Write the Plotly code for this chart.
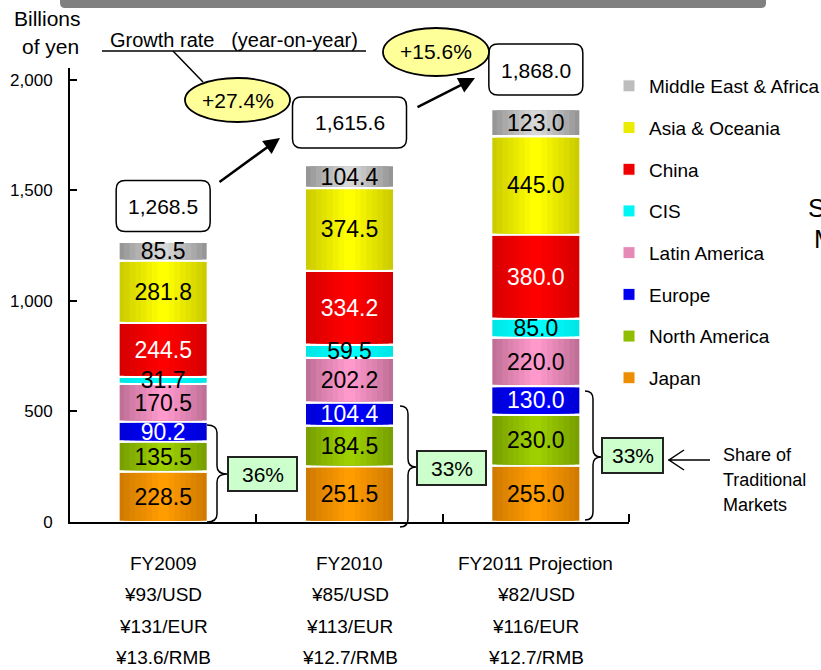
import plotly.graph_objects as go

# ---- data ----
years = ["FY2009", "FY2010", "FY2011 Projection"]
usd_rate = ["¥93/USD", "¥85/USD", "¥82/USD"]
eur_rate = ["¥131/EUR", "¥113/EUR", "¥116/EUR"]
rmb_rate = ["¥13.6/RMB", "¥12.7/RMB", "¥12.7/RMB"]

japan = [228.5, 251.5, 255.0]
north_america = [135.5, 184.5, 230.0]
europe = [90.2, 104.4, 130.0]
latin_america = [170.5, 202.2, 220.0]
cis = [31.7, 59.5, 85.0]
china = [244.5, 334.2, 380.0]
asia_oceania = [281.8, 374.5, 445.0]
middle_east_africa = [85.5, 104.4, 123.0]

totals = [1268.5, 1615.6, 1868.0]
growth = ["+27.4%", "+15.6%"]
traditional_share = ["36%", "33%", "33%"]

# name, values, edge colour, centre colour, label colour
series = [
    ("Japan", japan, (208, 122, 0), (255, 156, 0), "black"),
    ("North America", north_america, (120, 160, 0), (158, 208, 0), "black"),
    ("Europe", europe, (0, 0, 215), (0, 0, 255), "white"),
    ("Latin America", latin_america, (192, 112, 152), (255, 153, 204), "black"),
    ("CIS", cis, (0, 230, 230), (0, 255, 255), "black"),
    ("China", china, (215, 0, 0), (255, 0, 0), "white"),
    ("Asia & Oceania", asia_oceania, (204, 204, 0), (255, 255, 0), "black"),
    ("Middle East & Africa", middle_east_africa, (150, 150, 150), (215, 215, 215), "black"),
]

FONT = "Liberation Sans, Arial"
YMAX = 2054
BAR_W = 0.48
STEPS = 8

FIG_W, FIG_H = 821, 670
# plot area in pixels (for decorations)
L, T, W, H = 70, 68, 559, 454
PAD = 1.2 * YMAX / H  # keeps the white separators visible


def px(x):
    return (x - L) / W


def py(y):
    return (T + H - y) / H


def rgb(c):
    return "rgb(%d,%d,%d)" % c


def mix(a, b, t):
    return tuple(round(a[i] + (b[i] - a[i]) * t) for i in range(3))


def rounded_rect(x0, y0, x1, y1, r):
    p = [
        f"M{px(x0 + r)},{py(y0)}",
        f"L{px(x1 - r)},{py(y0)}",
        f"Q{px(x1)},{py(y0)} {px(x1)},{py(y0 + r)}",
        f"L{px(x1)},{py(y1 - r)}",
        f"Q{px(x1)},{py(y1)} {px(x1 - r)},{py(y1)}",
        f"L{px(x0 + r)},{py(y1)}",
        f"Q{px(x0)},{py(y1)} {px(x0)},{py(y1 - r)}",
        f"L{px(x0)},{py(y0 + r)}",
        f"Q{px(x0)},{py(y0)} {px(x0 + r)},{py(y0)}",
        "Z",
    ]
    return " ".join(p)


def brace(x0, ytop, ybot, ytip, w):
    xm = x0 + w * 0.5
    xt = x0 + w
    r = 8
    p = [
        f"M{px(x0)},{py(ytop)}",
        f"Q{px(xm)},{py(ytop)} {px(xm)},{py(ytop + r)}",
        f"L{px(xm)},{py(ytip - r)}",
        f"Q{px(xm)},{py(ytip)} {px(xt)},{py(ytip)}",
        f"Q{px(xm)},{py(ytip)} {px(xm)},{py(ytip + r)}",
        f"L{px(xm)},{py(ybot - r)}",
        f"Q{px(xm)},{py(ybot)} {px(x0)},{py(ybot)}",
    ]
    return " ".join(p)


def label(x, y, text, size, **kw):
    d = dict(x=px(x), y=py(y), xref="paper", yref="paper", text=text, showarrow=False,
             xanchor="center", yanchor="middle",
             font=dict(family=FONT, size=size, color="black"))
    d.update(kw)
    return d


fig = go.Figure()

# cumulative bases for the stack
bases = [[0.0] * 3]
for s in series[:-1]:
    bases.append([b + v for b, v in zip(bases[-1], s[1])])

# bar segments: nested bars getting narrower and lighter towards the centre
for (name, vals, edge, centre, tcolor), base in zip(series, bases):
    for k in range(STEPS):
        w = BAR_W * (1 - k / STEPS)
        col = rgb(mix(edge, centre, k / (STEPS - 1)))
        if k == 0:
            fig.add_trace(go.Bar(
                x=years, y=vals, base=base, width=w, legendgroup=name, showlegend=False,
                marker=dict(color=col, line=dict(color="white", width=2.4)),
                hoverinfo="skip"))
        else:
            fig.add_trace(go.Bar(
                x=years, y=[v - 2 * PAD for v in vals], base=[b + PAD for b in base],
                width=w, legendgroup=name, showlegend=False,
                marker=dict(color=col, line=dict(width=0)), hoverinfo="skip"))

# value labels on top of every segment
for (name, vals, edge, centre, tcolor), base in zip(series, bases):
    fig.add_trace(go.Bar(
        x=years, y=vals, base=base, width=BAR_W, legendgroup=name, showlegend=False,
        marker=dict(color="rgba(0,0,0,0)", line=dict(width=0)),
        text=[f"{v:.1f}" for v in vals],
        textposition="inside", insidetextanchor="middle",
        constraintext="none", textangle=0,
        textfont=dict(family=FONT, size=23, color=tcolor),
        hoverinfo="skip"))

# legend entries
for rank, (name, vals, edge, centre, tcolor) in enumerate(series):
    fig.add_trace(go.Bar(
        x=[years[0]], y=[None], name=name, legendgroup=name,
        legendrank=len(series) - rank,
        marker=dict(color=rgb(mix(edge, centre, 0.6)), line=dict(color="white", width=1)),
        hoverinfo="skip"))

shapes = []
annotations = []

# grey band at top
shapes.append(dict(type="path", xref="paper", yref="paper",
                   path=rounded_rect(60, -10, 766, 8, 5),
                   fillcolor="#808080", line=dict(width=0)))

# total boxes above each bar
box_w = [94, 114, 94]
box_shift = [10, 17, 14]
for i, tot in enumerate(totals):
    cx = L + W * (i + 0.5) / 3
    ybot = T + H - tot / YMAX * H - box_shift[i]
    shapes.append(dict(type="path", xref="paper", yref="paper",
                       path=rounded_rect(cx - box_w[i] / 2, ybot - 51, cx + box_w[i] / 2, ybot, 9),
                       fillcolor="white", line=dict(color="black", width=1.5)))
    annotations.append(label(cx, ybot - 25, f"{tot:,.1f}", 21))

# growth ellipses
ellipses = [(185, 78, 290, 122), (383, 28, 489, 76)]
for (x0, y0, x1, y1), g in zip(ellipses, growth):
    shapes.append(dict(type="circle", xref="paper", yref="paper",
                       x0=px(x0), x1=px(x1), y0=py(y1), y1=py(y0),
                       fillcolor="#FFFF99", line=dict(color="black", width=1.8)))
    annotations.append(label((x0 + x1) / 2, (y0 + y1) / 2, g, 21))

# growth rate title with underline and leader line
annotations.append(label(234, 40, "Growth rate&nbsp;&nbsp; (year-on-year)", 20))
shapes.append(dict(type="line", xref="paper", yref="paper",
                   x0=px(102), x1=px(366), y0=py(51), y1=py(51),
                   line=dict(color="black", width=1.5)))
shapes.append(dict(type="line", xref="paper", yref="paper",
                   x0=px(173), x1=px(203), y0=py(51), y1=py(82),
                   line=dict(color="black", width=1.5)))

# arrows between totals
for (xs, ys, xe, ye) in [(218, 183, 280, 138), (416, 108, 475, 78)]:
    annotations.append(dict(x=px(xe), y=py(ye), xref="paper", yref="paper",
                            ax=xs - xe, ay=ys - ye, text="", showarrow=True,
                            arrowhead=2, arrowsize=1.3, arrowwidth=2.5, arrowcolor="black"))

# braces + traditional-market share boxes
braces = [(207, 425, 522, 474, 20), (400, 406, 527, 467, 16), (585, 391, 520, 457, 16)]
share_boxes = [(228, 457, 297, 491), (417, 451, 486, 485), (602, 438, 663, 473)]
for b, (x0, y0, x1, y1), s in zip(braces, share_boxes, traditional_share):
    shapes.append(dict(type="path", xref="paper", yref="paper", path=brace(*b),
                       line=dict(color="black", width=1.5)))
    shapes.append(dict(type="rect", xref="paper", yref="paper",
                       x0=px(x0), x1=px(x1), y0=py(y1), y1=py(y0),
                       fillcolor="#CCFFCC", line=dict(color="#222222", width=2)))
    annotations.append(label((x0 + x1) / 2, (y0 + y1) / 2, s, 21))

# open arrow pointing at last share box
shapes.append(dict(type="path", xref="paper", yref="paper",
                   path=f"M{px(668)},{py(460)} L{px(710)},{py(460)} "
                        f"M{px(684)},{py(450)} L{px(669)},{py(460)} L{px(684)},{py(470)}",
                   line=dict(color="black", width=1.5)))
for k, line in enumerate(["Share of", "Traditional", "Markets"]):
    annotations.append(label(721, 455 + 25 * k, line, 18, xanchor="left"))

# clipped text at right edge
annotations.append(label(806, 208, "S", 26, xanchor="left"))
annotations.append(label(812, 239, "M", 26, xanchor="left"))

# y-axis unit label
annotations.append(label(47, 19, "Billions", 21))
annotations.append(label(50, 47, "of yen", 21))

# category labels (multi-line, wide spacing)
for i in range(3):
    lines = [years[i], usd_rate[i], eur_rate[i], rmb_rate[i]]
    for k, txt in enumerate(lines):
        annotations.append(dict(x=years[i], y=py(563 + 31.5 * k), xref="x", yref="paper",
                                text=txt, showarrow=False, xanchor="center", yanchor="middle",
                                font=dict(family=FONT, size=19, color="black")))

# closing tick at the right end of the x axis
shapes.append(dict(type="line", xref="paper", yref="paper",
                   x0=1, x1=1, y0=0, y1=py(T + H - 8),
                   line=dict(color="black", width=2)))

fig.update_layout(
    barmode="overlay",
    width=FIG_W, height=FIG_H,
    margin=dict(l=L, r=FIG_W - L - W, t=T, b=FIG_H - T - H, autoexpand=False),
    plot_bgcolor="white", paper_bgcolor="white",
    font=dict(family=FONT, color="black"),
    showlegend=True,
    legend=dict(x=px(609), y=py(67), xanchor="left", yanchor="top",
                traceorder="grouped", tracegroupgap=14,
                font=dict(family=FONT, size=19, color="black"),
                bgcolor="rgba(0,0,0,0)"),
    xaxis=dict(showline=True, linecolor="black", linewidth=2, automargin=False,
               ticks="inside", tickson="boundaries", ticklen=8, tickwidth=2, tickcolor="black",
               showticklabels=False, showgrid=False),
    yaxis=dict(range=[0, YMAX], showline=True, linecolor="black", linewidth=2, automargin=False,
               ticks="inside", ticklen=7, tickwidth=2, tickcolor="black",
               tickvals=[0, 500, 1000, 1500, 2000], tickformat=",",
               ticklabelstandoff=12, showgrid=False, zeroline=False,
               tickfont=dict(family=FONT, size=17, color="black")),
    shapes=shapes,
    annotations=annotations,
)

# drop the default page margin so the figure fills the window exactly
fig.write_html("out.html", config={"displayModeBar": False},
               post_script="document.body.style.margin = '0';")
